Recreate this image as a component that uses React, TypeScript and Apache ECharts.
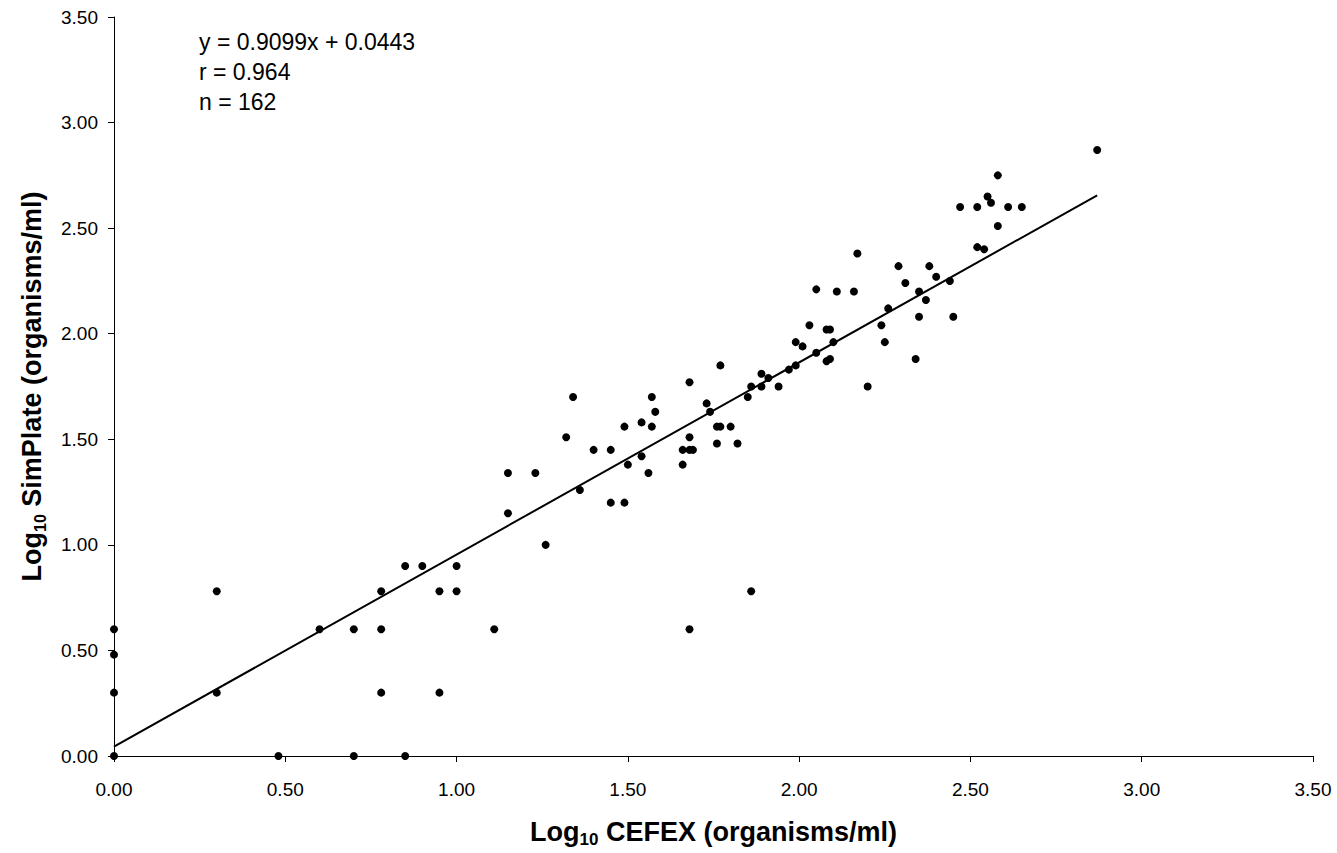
import React, { useEffect, useRef } from "react";
import * as echarts from "echarts";

// Log10 CEFEX (x) and Log10 SimPlate (y), paired by index
const cefexValues = [
  0, 0, 0, 0,
  0.30, 0.30, 0.48, 0.60, 0.70, 0.70, 0.78, 0.78, 0.78, 0.85, 0.85, 0.90, 0.95, 0.95, 1.00, 1.00, 1.11,
  1.15, 1.15, 1.23, 1.26, 1.32, 1.34, 1.36, 1.40, 1.45, 1.45, 1.49, 1.49, 1.50, 1.54, 1.54, 1.56, 1.57, 1.57, 1.58,
  1.66, 1.66, 1.68, 1.68, 1.68, 1.69, 1.68, 1.73, 1.74, 1.76, 1.77, 1.76, 1.77, 1.80, 1.82, 1.86, 1.85, 1.86,
  1.89, 1.89, 1.91, 1.94, 1.97, 1.99, 1.99, 2.01, 2.03, 2.05, 2.08, 2.09, 2.08, 2.09, 2.10, 2.20, 2.24, 2.25,
  2.05, 2.11, 2.16, 2.17, 2.26, 2.29, 2.31, 2.35, 2.35, 2.34, 2.37, 2.38, 2.40, 2.44, 2.45, 2.47, 2.52, 2.52,
  2.54, 2.55, 2.56, 2.58, 2.58, 2.61, 2.65, 2.87,
];
const simplateValues = [
  0.60, 0.48, 0.30, 0,
  0.78, 0.30, 0, 0.60, 0.60, 0, 0.78, 0.60, 0.30, 0.90, 0, 0.90, 0.78, 0.30, 0.90, 0.78, 0.60,
  1.34, 1.15, 1.34, 1.00, 1.51, 1.70, 1.26, 1.45, 1.45, 1.20, 1.56, 1.20, 1.38, 1.58, 1.42, 1.34, 1.70, 1.56, 1.63,
  1.45, 1.38, 1.77, 1.51, 1.45, 1.45, 0.60, 1.67, 1.63, 1.56, 1.56, 1.48, 1.85, 1.56, 1.48, 0.78, 1.70, 1.75,
  1.81, 1.75, 1.79, 1.75, 1.83, 1.85, 1.96, 1.94, 2.04, 1.91, 2.02, 2.02, 1.87, 1.88, 1.96, 1.75, 2.04, 1.96,
  2.21, 2.20, 2.20, 2.38, 2.12, 2.32, 2.24, 2.20, 2.08, 1.88, 2.16, 2.32, 2.27, 2.25, 2.08, 2.60, 2.60, 2.41,
  2.40, 2.65, 2.62, 2.75, 2.51, 2.60, 2.60, 2.87,
];

// Regression line
const slope = 0.9099;
const intercept = 0.0443;
const trendXRange = [0, 2.87];

const annotationLines = ["y = 0.9099x + 0.0443", "r = 0.964", "n = 162"];
const axisTicks = [0, 0.5, 1, 1.5, 2, 2.5, 3, 3.5];

const FONT = "'Liberation Sans', Arial, Helvetica, sans-serif";

export default function App() {
  const ref = useRef<HTMLDivElement>(null);

  useEffect(() => {
    if (!ref.current) return;
    const chart = echarts.init(ref.current, null, { renderer: "svg" });
    const points = cefexValues.map((x, i) => [x, simplateValues[i]]);
    const trend = trendXRange.map((x) => [x, slope * x + intercept]);

    const axisCommon = {
      type: "value" as const,
      min: axisTicks[0],
      max: axisTicks[axisTicks.length - 1],
      interval: 0.5,
      splitLine: { show: false },
      axisLine: { show: true, onZero: false, lineStyle: { color: "#000", width: 1 } },
      axisTick: { show: true, inside: false, length: 6, lineStyle: { color: "#000", width: 1 } },
      nameLocation: "middle" as const,
    };

    chart.setOption({
      animation: false,
      backgroundColor: "#fff",
      grid: { left: 114, right: 24, top: 17, bottom: 94, containLabel: false },
      xAxis: {
        ...axisCommon,
        axisLabel: {
          color: "#000",
          fontSize: 19,
          fontFamily: FONT,
          margin: 24,
          formatter: (v: number) => v.toFixed(2),
        },
        name: "{a|Log}{b|10}{a| CEFEX (organisms/ml)}",
        nameGap: 60,
        nameTextStyle: {
          rich: {
            a: { fontSize: 27, fontWeight: "bold", fontFamily: FONT, color: "#000", lineHeight: 32 },
            b: { fontSize: 17, fontWeight: "bold", fontFamily: FONT, color: "#000", lineHeight: 14, verticalAlign: "bottom" },
          },
        },
      },
      yAxis: {
        ...axisCommon,
        axisLabel: {
          color: "#000",
          fontSize: 19,
          fontFamily: FONT,
          margin: 16,
          formatter: (v: number) => v.toFixed(2),
        },
        name: "{a|Log}{b|10}{a| SimPlate (organisms/ml)}",
        nameGap: 66,
        nameTextStyle: {
          rich: {
            a: { fontSize: 27, fontWeight: "bold", fontFamily: FONT, color: "#000", lineHeight: 32 },
            b: { fontSize: 16, fontWeight: "bold", fontFamily: FONT, color: "#000", lineHeight: 14, verticalAlign: "bottom" },
          },
        },
      },
      graphic: annotationLines.map((t, i) => ({
        type: "text",
        left: 199,
        top: 30 + i * 30,
        style: { text: t, fontSize: 23, fontFamily: FONT, fill: "#000" },
      })),
      series: [
        {
          type: "scatter",
          data: points,
          symbol: "circle",
          symbolSize: 8,
          itemStyle: { color: "#000", opacity: 1 },
          z: 3,
        },
        {
          type: "line",
          data: trend,
          symbol: "none",
          lineStyle: { color: "#000", width: 2 },
          z: 2,
        },
      ],
    });
    return () => chart.dispose();
  }, []);

  return (
    <div
      ref={ref}
      style={{ position: "fixed", left: 0, top: 0, width: 1337, height: 853 }}
    />
  );
}
